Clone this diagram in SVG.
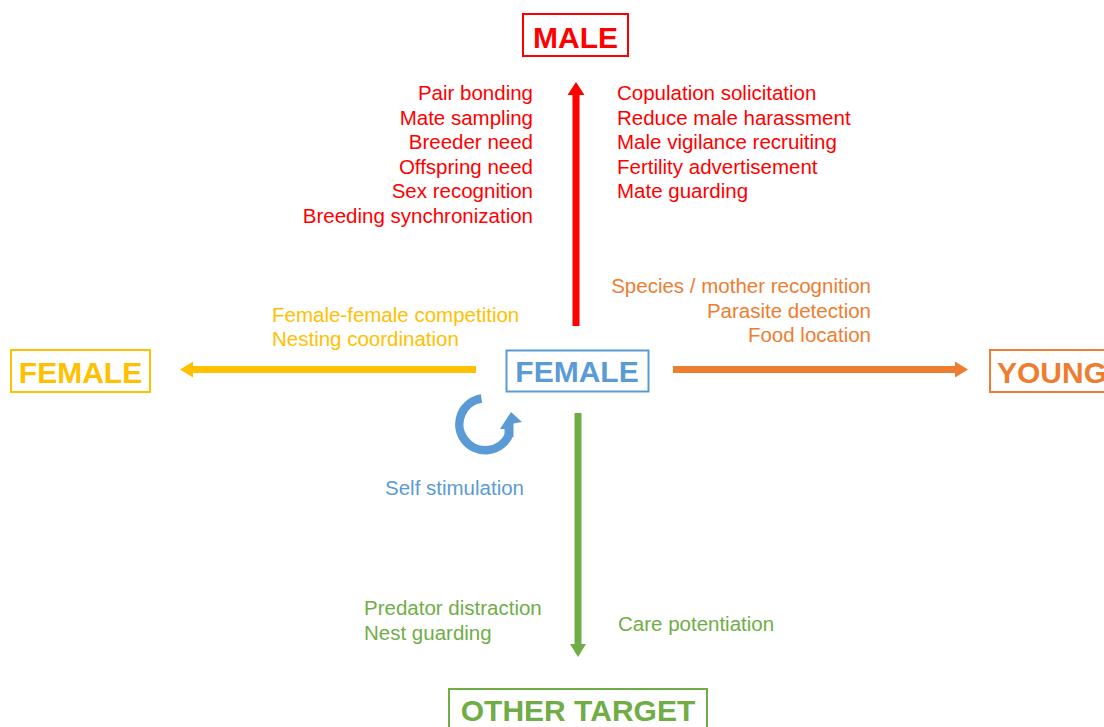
<svg xmlns="http://www.w3.org/2000/svg" width="1104" height="727" viewBox="0 0 1104 727">
<style>
.box{fill:#fff;stroke-width:2}
.bt{font-family:"Liberation Sans",Arial,sans-serif;font-weight:bold;font-size:30px}
.lb{font-family:"Liberation Sans",Arial,sans-serif;font-size:20.5px}
.red{fill:#FF0000}.yel{fill:#FFC000}.ora{fill:#ED7D31}.blu{fill:#5B9BD5}.gre{fill:#70AD47}
</style>
<rect width="1104" height="727" fill="#fff"/>
<g id="connectors">
<polygon class="red" points="572.5,326 579.5,326 579.5,95 584.5,95 576,82 567.5,95 572.5,95"/>
<polygon class="yel" points="476,366 476,373 193,373 193,377.5 180,369.5 193,361.5 193,366"/>
<polygon class="ora" points="673,366 673,373 955,373 955,377.5 968,369.5 955,361.5 955,366"/>
<polygon class="gre" points="574.5,413 581.5,413 581.5,644 586,644 578,657 570,644 574.5,644"/>
</g>
<g id="self-loop">
<path d="M481.5,398.5 A26,26 0 1 0 509,435" fill="none" stroke="#5B9BD5" stroke-width="8.5"/>
<polygon class="blu" points="500,429 511,412 522,422 513.5,423.5 513.5,437 504.5,437 504.5,429"/>
</g>
<g id="male">
<rect class="box" x="523" y="14" width="105" height="42" stroke="#FF0000"/>
<text class="bt red" x="575.5" y="48" text-anchor="middle">MALE</text>
</g>
<g id="female-center">
<rect class="box" x="506.5" y="350.5" width="142" height="41" stroke="#5B9BD5"/>
<text class="bt blu" x="577" y="382" text-anchor="middle">FEMALE</text>
</g>
<g id="female-left">
<rect class="box" x="11" y="350" width="139" height="42" stroke="#FFC000"/>
<text class="bt yel" x="80.5" y="383" text-anchor="middle">FEMALE</text>
</g>
<g id="young">
<rect class="box" x="990" y="350" width="130" height="42" stroke="#ED7D31"/>
<text class="bt ora" x="997" y="383">YOUNG</text>
</g>
<g id="other-target">
<rect class="box" x="449" y="689" width="258" height="50" stroke="#70AD47"/>
<text class="bt gre" x="578" y="721" text-anchor="middle">OTHER TARGET</text>
</g>
<g id="male-labels-left" class="lb red" text-anchor="end">
<text x="533" y="100">Pair bonding</text>
<text x="533" y="124.5">Mate sampling</text>
<text x="533" y="149">Breeder need</text>
<text x="533" y="173.5">Offspring need</text>
<text x="533" y="198">Sex recognition</text>
<text x="533" y="222.5">Breeding synchronization</text>
</g>
<g id="male-labels-right" class="lb red">
<text x="617" y="100">Copulation solicitation</text>
<text x="617" y="124.5">Reduce male harassment</text>
<text x="617" y="149">Male vigilance recruiting</text>
<text x="617" y="173.5">Fertility advertisement</text>
<text x="617" y="198">Mate guarding</text>
</g>
<g id="young-labels" class="lb ora" text-anchor="end">
<text x="871" y="293">Species / mother recognition</text>
<text x="871" y="317.5">Parasite detection</text>
<text x="871" y="342">Food location</text>
</g>
<g id="female-labels" class="lb yel">
<text x="272" y="322">Female-female competition</text>
<text x="272" y="346">Nesting coordination</text>
</g>
<text class="lb blu" x="385" y="495">Self stimulation</text>
<g id="other-labels" class="lb gre">
<text x="364" y="615">Predator distraction</text>
<text x="364" y="639.5">Nest guarding</text>
<text x="618" y="631">Care potentiation</text>
</g>
</svg>
